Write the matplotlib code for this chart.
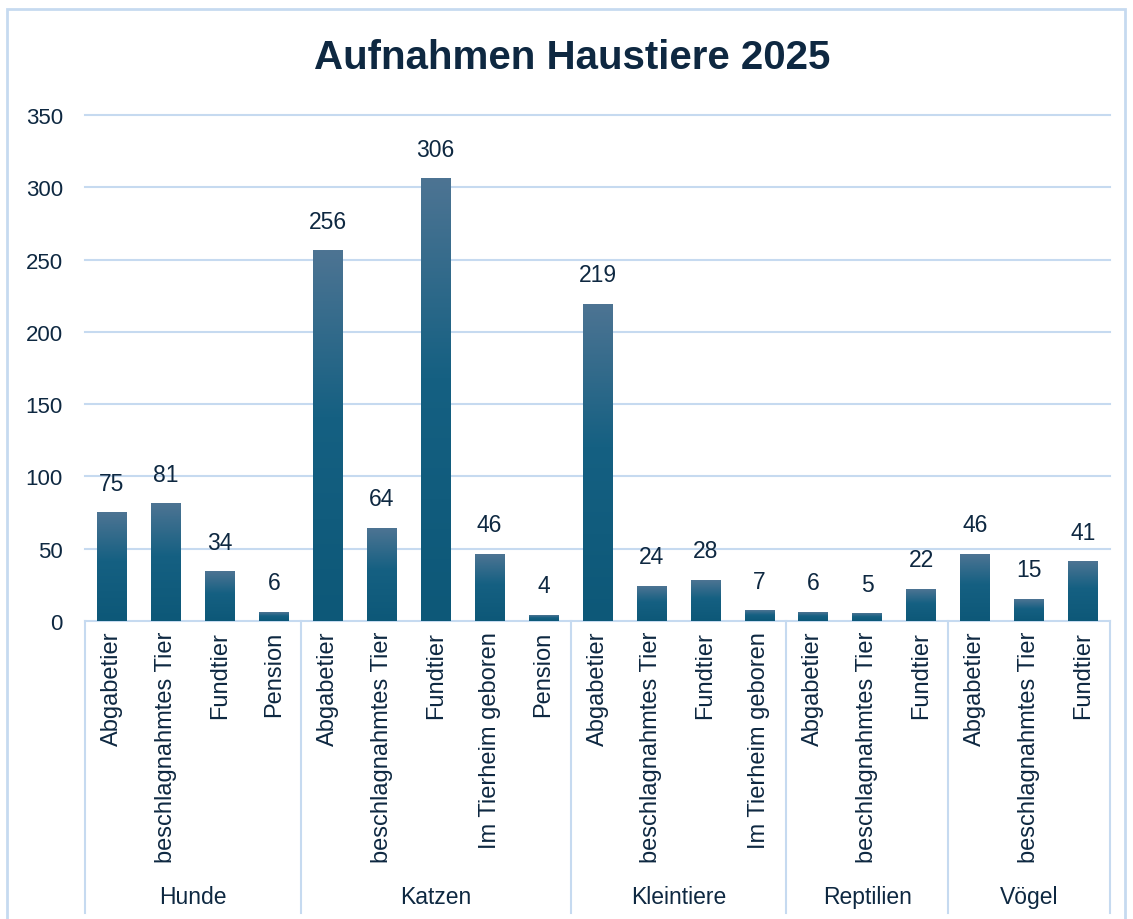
import matplotlib.pyplot as plt
import numpy as np
from matplotlib.colors import LinearSegmentedColormap
from matplotlib.patches import Rectangle
from matplotlib.transforms import blended_transform_factory

# Data
groups = ["Hunde", "Katzen", "Kleintiere", "Reptilien", "Vögel"]
group_categories = [
    ["Abgabetier", "beschlagnahmtes Tier", "Fundtier", "Pension"],
    ["Abgabetier", "beschlagnahmtes Tier", "Fundtier", "Im Tierheim geboren", "Pension"],
    ["Abgabetier", "beschlagnahmtes Tier", "Fundtier", "Im Tierheim geboren"],
    ["Abgabetier", "beschlagnahmtes Tier", "Fundtier"],
    ["Abgabetier", "beschlagnahmtes Tier", "Fundtier"],
]
values = [
    75, 81, 34, 6,
    256, 64, 306, 46, 4,
    219, 24, 28, 7,
    6, 5, 22,
    46, 15, 41,
]
y_ticks = [0, 50, 100, 150, 200, 250, 300, 350]

TEXT = "#0e2841"
GRID = "#c6daf0"
plt.rcParams["font.family"] = ["Liberation Sans", "DejaVu Sans"]

labels = [c for cats in group_categories for c in cats]
x = np.arange(len(labels))
width = 0.55

fig = plt.figure(figsize=(11.33, 9.2), dpi=100)
ax = fig.add_axes([85 / 1133, 1 - 622 / 920, (1110 - 85) / 1133, (622 - 116) / 920])

# outer chart border
fig.patches.append(Rectangle((7 / 1133, -0.02), (1125 - 7) / 1133, 1.02 - 10 / 920,
                             transform=fig.transFigure, fill=False, edgecolor=GRID, linewidth=2))

cmap = LinearSegmentedColormap.from_list(
    "bar", [(0, "#0d5878"), (0.55, "#156082"), (1, "#4d7493")])
grad = np.linspace(0, 1, 256).reshape(-1, 1)
for xi, v in zip(x, values):
    ax.imshow(grad, extent=[xi - width / 2, xi + width / 2, 0, v], origin="lower",
              aspect="auto", cmap=cmap, zorder=3, interpolation="bilinear")
    ax.annotate(str(v), (xi, v), xytext=(0, 13), textcoords="offset points",
                ha="center", va="bottom", fontsize=16.5, color=TEXT)

ax.set_xlim(-0.5, len(labels) - 0.5)
ax.set_ylim(0, 350)
ax.set_yticks(y_ticks)
ax.yaxis.grid(True, color=GRID, linewidth=1.5)
for gl in ax.get_ygridlines():
    gl.set_clip_on(False)
ax.set_axisbelow(True)
for s in ax.spines.values():
    s.set_visible(False)
ax.tick_params(axis="y", length=0, pad=16, labelsize=16, labelcolor=TEXT)
ax.set_xticks(x)
ax.set_xticklabels(labels, rotation=90, fontsize=17, color=TEXT)
ax.tick_params(axis="x", length=0, pad=7)

# group separators and group labels
trans = blended_transform_factory(ax.transData, ax.transAxes)
bounds = np.cumsum([0] + [len(c) for c in group_categories]) - 0.5
for b in bounds:
    ax.plot([b, b], [0, -0.578], transform=trans, color=GRID, linewidth=1.5, clip_on=False)
for g, lo, hi in zip(groups, bounds[:-1], bounds[1:]):
    ax.text((lo + hi) / 2, -0.545, g, transform=trans, ha="center", va="center",
            fontsize=16.5, color=TEXT)

fig.text(572 / 1133, 1 - 58 / 920, "Aufnahmen Haustiere 2025", ha="center", va="center",
         fontsize=29, fontweight="bold", color=TEXT)

fig.savefig("out.png", dpi=100)
